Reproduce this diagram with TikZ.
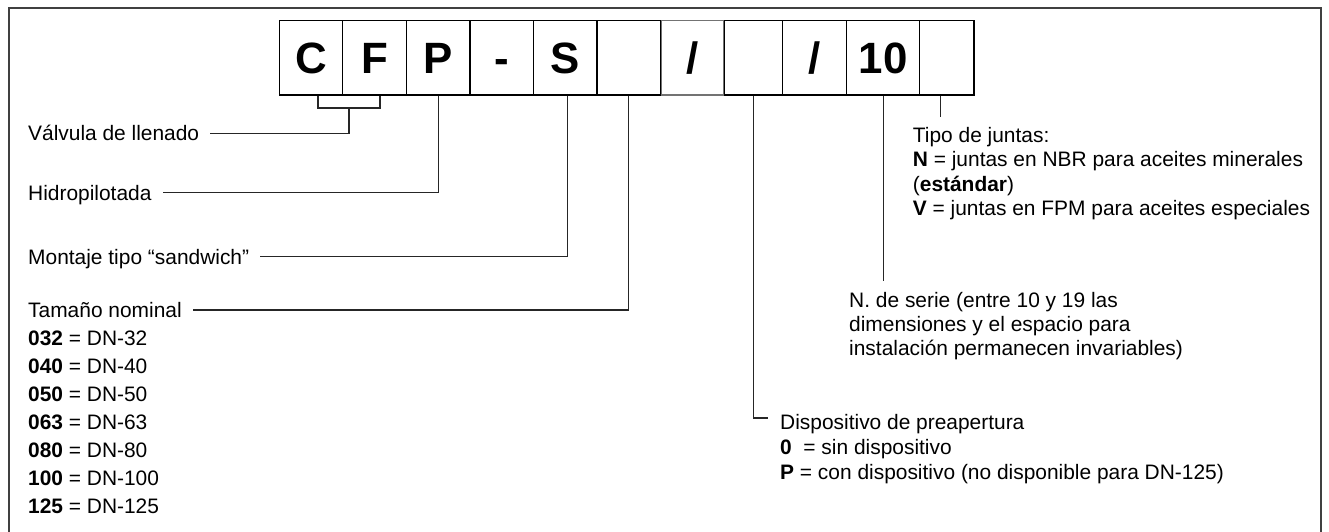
\documentclass[tikz,border=0pt]{standalone}
\usepackage{fontspec}
\setmainfont{Liberation Sans}
\begin{document}
\begin{tikzpicture}[x=1bp,y=-1bp,
  cell/.style={draw=black, line width=1.3bp, inner sep=0, minimum height=74.3bp,
    text height=31.5bp, text depth=0bp,
    font=\fontsize{44}{44}\selectfont\bfseries},
  lbl/.style={anchor=base west, inner sep=0, text height=15bp, text depth=0bp,
    font=\fontsize{21}{25}\selectfont},
  conn/.style={line width=1.2bp, draw=black!85},
  frame/.style={line width=1.6bp, draw=black!75}]
\useasboundingbox (0,0) rectangle (1329,532);
% frame
\draw[frame] (9,532) -- (9,8) -- (1321,8) -- (1321,532);
% code boxes
\node[cell, draw=black!55, minimum width=62bp] (b7) at (692.65,57.85) {/};
\node[cell, minimum width=63.4bp] (b1) at (311,57.85) {C};
\node[cell, minimum width=63.8bp] (b2) at (374.6,57.85) {F};
\node[cell, minimum width=63.4bp] (b3) at (438.2,57.85) {P};
\node[cell, minimum width=63.8bp] (b4) at (501.8,57.85) {-};
\node[cell, minimum width=63.4bp] (b5) at (565.4,57.85) {S};
\node[cell, minimum width=63.4bp] (b6) at (628.8,57.85) {};
\node[cell, minimum width=58bp] (b8) at (753.8,57.85) {};
\node[cell, minimum width=63.8bp] (b9) at (814.7,57.85) {/};
\node[cell, minimum width=73.2bp] (b10) at (883.2,57.85) {10};
\node[cell, minimum width=54.2bp] (b11) at (946.9,57.85) {};
% left labels
\node[lbl] (valv) at (28,140.8) {Válvula de llenado};
\node[lbl] (hidro) at (28,200.2) {Hidropilotada};
\node[lbl] (mont) at (28,264.2) {Montaje tipo “sandwich”};
\node[lbl] (tam) at (28,317.5) {Tamaño nominal};
\node[lbl] (t1) at (28,345.5) {\textbf{032} = DN-32};
\node[lbl] (t2) at (28,373.5) {\textbf{040} = DN-40};
\node[lbl] (t3) at (28,401.5) {\textbf{050} = DN-50};
\node[lbl] (t4) at (28,429.5) {\textbf{063} = DN-63};
\node[lbl] (t5) at (28,457.5) {\textbf{080} = DN-80};
\node[lbl] (t6) at (28,485.5) {\textbf{100} = DN-100};
\node[lbl] (t7) at (28,513.5) {\textbf{125} = DN-125};
% right labels
\node[lbl] (tipo) at (912.7,142.5) {Tipo de juntas:};
\node[lbl] (j1) at (912.7,167) {\textbf{N} = juntas en NBR para aceites minerales};
\node[lbl] (j2) at (912.7,191.5) {(\textbf{estándar})};
\node[lbl] (j3) at (912.7,216) {\textbf{V} = juntas en FPM para aceites especiales};
\node[lbl] (serie) at (849,307.5) {N. de serie (entre 10 y 19 las};
\node[lbl] (s2) at (849,331.5) {dimensiones y el espacio para};
\node[lbl] (s3) at (849,355.5) {instalación permanecen invariables)};
\node[lbl] (disp) at (780,429) {Dispositivo de preapertura};
\node[lbl] (d1) at (780,454) {\textbf{0}~~= sin dispositivo};
\node[lbl] (d2) at (780,479) {\textbf{P} = con dispositivo (no disponible para DN-125)};
% connectors
\coordinate (brk) at (349,108);
\draw[conn] ([xshift=7bp]b1.south) -- ([xshift=7bp]b1.south |- brk) -- ([xshift=5.4bp]b2.south |- brk) -- ([xshift=5.4bp]b2.south);
\draw[conn] (brk) |- ([xshift=11bp]valv.east);
\draw[conn] (b3.south) |- ([xshift=11bp]hidro.east);
\draw[conn] ([xshift=2bp]b5.south) |- ([xshift=11bp]mont.east);
\draw[conn] (b6.south) |- ([xshift=11bp]tam.east);
\coordinate (dispk) at (768,418);
\draw[conn] (b8.south) |- (dispk);
\coordinate (serieTop) at (883.2,281);
\draw[conn] (b10.south) -- (b10.south |- serieTop);
\coordinate (tipoEnd) at (940.3,116.7);
\draw[conn] (tipoEnd |- b11.south) -- (tipoEnd);
\end{tikzpicture}
\end{document}
